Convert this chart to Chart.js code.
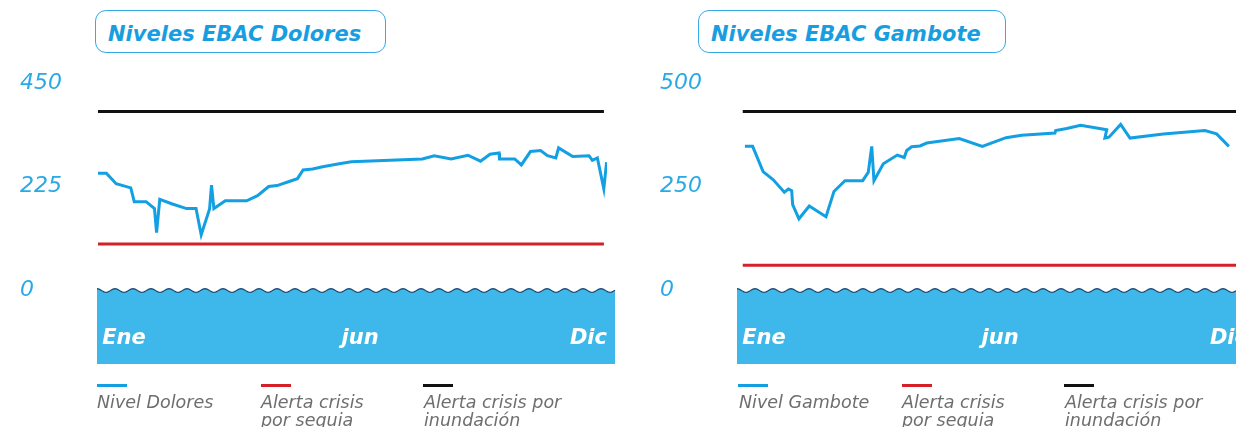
<!DOCTYPE html>
<html>
<head>
<meta charset="utf-8">
<script src="https://cdn.jsdelivr.net/npm/chart.js@4.4.1/dist/chart.umd.min.js"></script>
<style>
  html, body { margin:0; padding:0; background:#fff; width:1236px; height:427px; overflow:hidden; position:relative; font-family:"DejaVu Sans", sans-serif; }
  canvas { position:absolute; top:0; }
  .title { position:absolute; top:10px; height:43px; border:1.4px solid #34abe6; border-radius:11px; box-sizing:border-box;
           color:#189ee0; font-weight:700; font-style:italic; font-size:21px; line-height:46px; padding-left:12px; white-space:nowrap; }
  .sw { position:absolute; top:384px; width:30px; height:3px; }
  .lg { position:absolute; top:393px; font-style:italic; font-size:17.5px; line-height:18px; color:#6e6e6e; white-space:nowrap; }
</style>
</head>
<body>
<div class="title" style="left:95px;width:291px;">Niveles EBAC Dolores</div>
<div class="title" style="left:698px;width:308px;">Niveles EBAC Gambote</div>

<canvas id="c1" width="640" height="427" style="left:0px;"></canvas>
<canvas id="c2" width="640" height="427" style="left:640px;"></canvas>

<div class="sw" style="left:97px;background:#12a0e3;"></div>
<div class="sw" style="left:261px;background:#d42027;"></div>
<div class="sw" style="left:423px;background:#111;"></div>
<div class="lg" style="left:97px;">Nivel Dolores</div>
<div class="lg" style="left:261px;">Alerta crisis<br>por sequia</div>
<div class="lg" style="left:424px;">Alerta crisis por<br>inundación</div>

<div class="sw" style="left:738px;background:#12a0e3;"></div>
<div class="sw" style="left:902px;background:#d42027;"></div>
<div class="sw" style="left:1064px;background:#111;"></div>
<div class="lg" style="left:739px;">Nivel Gambote</div>
<div class="lg" style="left:902px;">Alerta crisis<br>por sequia</div>
<div class="lg" style="left:1065px;">Alerta crisis por<br>inundación</div>

<script>
// ---- data (day of year, level) ----
const doloresDays = [0,6,13,23.5,26,34.5,40.5,42,44.3,53.3,63.5,70.3,74,80,81.4,83.1,91.3,106.6,114.4,122.4,128.4,138.1,143,147.1,153.9,161.1,172,181.7,232.6,241.1,253.2,265.3,274.3,281.1,287.6,287.9,298.8,303.6,310.1,317.4,322.3,328.3,330.3,340.4,352.1,354.5,358.1,362.7,364.7];
const doloresLevels = [254,254,231,222,192,192,177,125,197,187,177,177,120,176,228,177,194,194,205,225,227,237,242,261,263,268,274,279,285,292,285,293,280,295,298,285,285,272,301,303,292,287,309,290,292,282,287,220,278];
const gamboteDays = [5,10.5,18,25.3,33.2,36.1,38.5,39.2,43.7,51.1,63.1,68.8,76.7,89.4,93.4,95.9,97.5,104.2,114.2,119.2,121,124.5,130.5,135.3,158.7,175.2,192.2,203.4,227.3,227.8,235.7,245.7,264.4,263.1,266,274.4,281.1,305,334.8,343.2,352];
const gamboteLevels = [347,347,286,266,236,244,240,206,172,203,177,238,264,264,284,347,264,305,326,320,337,346,348,355,366,347,368,374,379,385,390,398,387,367,369,400,367,377,385,377,347];
const doloresAlertDays = [0,362.8];
const doloresDrought = [100,100];
const doloresFlood = [388,388];
const gamboteAlertDays = [3.4,362.8];
const gamboteDrought = [60,60];
const gamboteFlood = [431,431];
const doloresYTicks = [0,225,450];
const gamboteYTicks = [0,250,500];
const monthTickDays = [3,188,365];
const monthTickLabels = ['Ene','jun','Dic'];

const FONT = '"DejaVu Sans", sans-serif';
const toXY = (xs, ys) => xs.map((x,i)=>({x:x, y:ys[i]}));

const bandPlugin = {
  id:'band',
  beforeDraw(chart){
    const {ctx, chartArea:a} = chart;
    const left = a.left - 1, right = a.right + 8, top = a.bottom, bottom = a.bottom + 74;
    const period = 18, amp = 1.8;
    const waveY = x => top - amp*Math.cos((x-left)/period*2*Math.PI) + 0.5;
    ctx.save();
    ctx.beginPath();
    ctx.moveTo(left, bottom);
    ctx.lineTo(left, waveY(left));
    for (let x = left; x <= right; x += 1) ctx.lineTo(x, waveY(x));
    ctx.lineTo(right, bottom);
    ctx.closePath();
    ctx.fillStyle = '#3eb8ea';
    ctx.fill();
    ctx.beginPath();
    for (let x = left; x <= right; x += 1) {
      if (x === left) ctx.moveTo(x, waveY(x)); else ctx.lineTo(x, waveY(x));
    }
    ctx.strokeStyle = '#1d4870';
    ctx.lineWidth = 1.2;
    ctx.stroke();
    ctx.restore();
  }
};

function makeChart(id, name, days, levels, alertDays, drought, flood, yTicks) {
  const yMax = yTicks[yTicks.length-1];
  return new Chart(document.getElementById(id), {
    type:'line',
    data:{ datasets:[
      { label:name, data:toXY(days, levels), borderColor:'#12a0e3', borderWidth:3, pointRadius:0, tension:0, fill:false },
      { label:'Alerta crisis por sequia', data:toXY(alertDays, drought), borderColor:'#d42027', borderWidth:3, pointRadius:0, fill:false },
      { label:'Alerta crisis por inundación', data:toXY(alertDays, flood), borderColor:'#111111', borderWidth:3, pointRadius:0, fill:false }
    ]},
    options:{
      responsive:false, animation:false, devicePixelRatio:1,
      layout:{ padding:{ left:20, top:83, right:33, bottom:62 } },
      plugins:{ legend:{display:false}, tooltip:{enabled:false} },
      scales:{
        x:{ type:'linear', min:0, max:365,
            grid:{display:false, drawTicks:false}, border:{display:false},
            afterBuildTicks(s){ s.ticks = monthTickDays.map(v=>({value:v})); },
            afterFit(s){ s.height = 75; s.paddingLeft = 0; s.paddingRight = 0; },
            ticks:{ align:'inner', maxRotation:0, autoSkip:false, padding:36, color:'#ffffff',
                    font:{family:FONT, size:21, weight:'bold', style:'italic'},
                    callback:(v,i)=>monthTickLabels[i] } },
        y:{ type:'linear', min:0, max:yMax,
            grid:{display:false, drawTicks:false}, border:{display:false},
            afterBuildTicks(s){ s.ticks = yTicks.map(v=>({value:v})); },
            afterFit(s){ s.width = 78; },
            ticks:{ crossAlign:'far', padding:0, color:'#2aa9e5',
                    font:{family:FONT, size:22, weight:'normal', style:'italic'} } }
      }
    },
    plugins:[bandPlugin]
  });
}

makeChart('c1','Nivel Dolores', doloresDays, doloresLevels, doloresAlertDays, doloresDrought, doloresFlood, doloresYTicks);
makeChart('c2','Nivel Gambote', gamboteDays, gamboteLevels, gamboteAlertDays, gamboteDrought, gamboteFlood, gamboteYTicks);
</script>
</body>
</html>
